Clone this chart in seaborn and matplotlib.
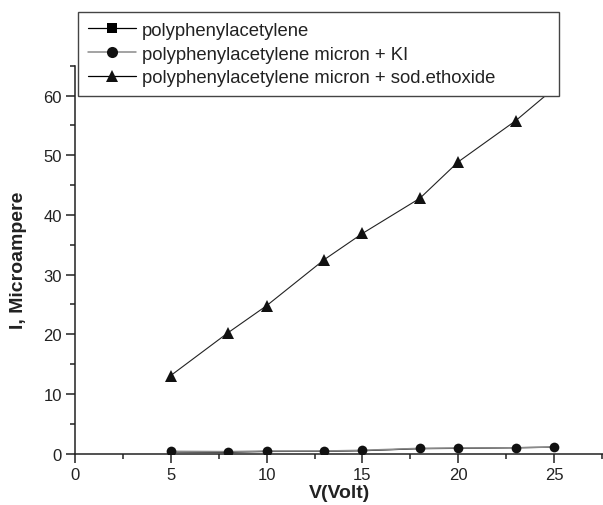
import matplotlib
matplotlib.use("Agg")
import matplotlib.pyplot as plt
from matplotlib.lines import Line2D
from matplotlib.ticker import MultipleLocator
import seaborn as sns

# Werte
volt = [5, 8, 10, 13, 15, 18, 20, 23, 25]
i_pure = [0.3, 0.25, 0.38, 0.4, 0.5, 0.85, 0.9, 1.0, 1.1]
i_ki = [0.4, 0.35, 0.45, 0.45, 0.57, 0.9, 0.95, 1.0, 1.12]
i_ethoxide = [13.1, 20.3, 24.8, 32.5, 36.9, 42.8, 48.9, 55.8, 61.2]

labels = [
    "polyphenylacetylene",
    "polyphenylacetylene micron + KI",
    "polyphenylacetylene micron + sod.ethoxide",
]

sns.set_style("ticks")
plt.rcParams["font.family"] = ["Liberation Sans", "DejaVu Sans"]

W, H = 603, 506
fig = plt.figure(figsize=(W / 100, H / 100), dpi=100)
ax = fig.add_axes([75 / W, (H - 454.7) / H, 1 - 75 / W, (454.7 - 66.7) / H])

# Quadrate liegen unter den Kreisen und sind dort kaum sichtbar
sns.lineplot(x=volt, y=i_pure, ax=ax, color="black", lw=0.9, marker="s",
             markersize=4, markeredgewidth=0, zorder=2)
sns.lineplot(x=volt, y=i_ki, ax=ax, color="#8a8a8a", lw=1.1, marker="o",
             markersize=7, markerfacecolor="#111111", markeredgewidth=0, zorder=3)
sns.lineplot(x=volt, y=i_ethoxide, ax=ax, color="#222222", lw=0.8, marker="^",
             markersize=8, markerfacecolor="#111111", markeredgewidth=0, zorder=3)

ax.set_xlim(0, 27.55)
ax.set_ylim(0, 65)
ax.xaxis.set_major_locator(MultipleLocator(5))
ax.xaxis.set_minor_locator(MultipleLocator(2.5))
ax.yaxis.set_major_locator(MultipleLocator(10))
ax.yaxis.set_minor_locator(MultipleLocator(5))

for side in ["top", "right"]:
    ax.spines[side].set_visible(False)
for side in ["left", "bottom"]:
    ax.spines[side].set_linewidth(1.1)
    ax.spines[side].set_color("#222222")

ax.tick_params(which="major", direction="out", length=6.3, width=1.1,
               labelsize=12, pad=3, color="#222222", labelcolor="#222222")
ax.tick_params(which="minor", direction="out", length=3.3, width=1.1, color="#222222")

ax.set_xlabel("V(Volt)", fontsize=14, fontweight="bold", labelpad=2, color="#222222")
ax.set_ylabel("I, Microampere", fontsize=14, fontweight="bold", labelpad=12, color="#222222")

handles = [
    Line2D([], [], color="black", lw=0.9, marker="s", markersize=7.5, markeredgewidth=0),
    Line2D([], [], color="#8a8a8a", lw=1.1, marker="o", markersize=8,
           markerfacecolor="#111111", markeredgewidth=0),
    Line2D([], [], color="black", lw=0.9, marker="^", markersize=9,
           markerfacecolor="#111111", markeredgewidth=0),
]
leg = fig.legend(handles, labels, loc="upper left",
                 bbox_to_anchor=(78.3 / W, 1 - 12.7 / H, (559.3 - 78.3) / W, 0),
                 mode="expand", borderaxespad=0, fontsize=13.3, frameon=True,
                 fancybox=False, framealpha=1, edgecolor="#444444",
                 handlelength=2.6, handletextpad=0.3, labelspacing=0.36,
                 borderpad=0.55)
leg.get_frame().set_linewidth(1.0)
for t in leg.get_texts():
    t.set_color("#222222")

fig.savefig("out.png", dpi=100)
